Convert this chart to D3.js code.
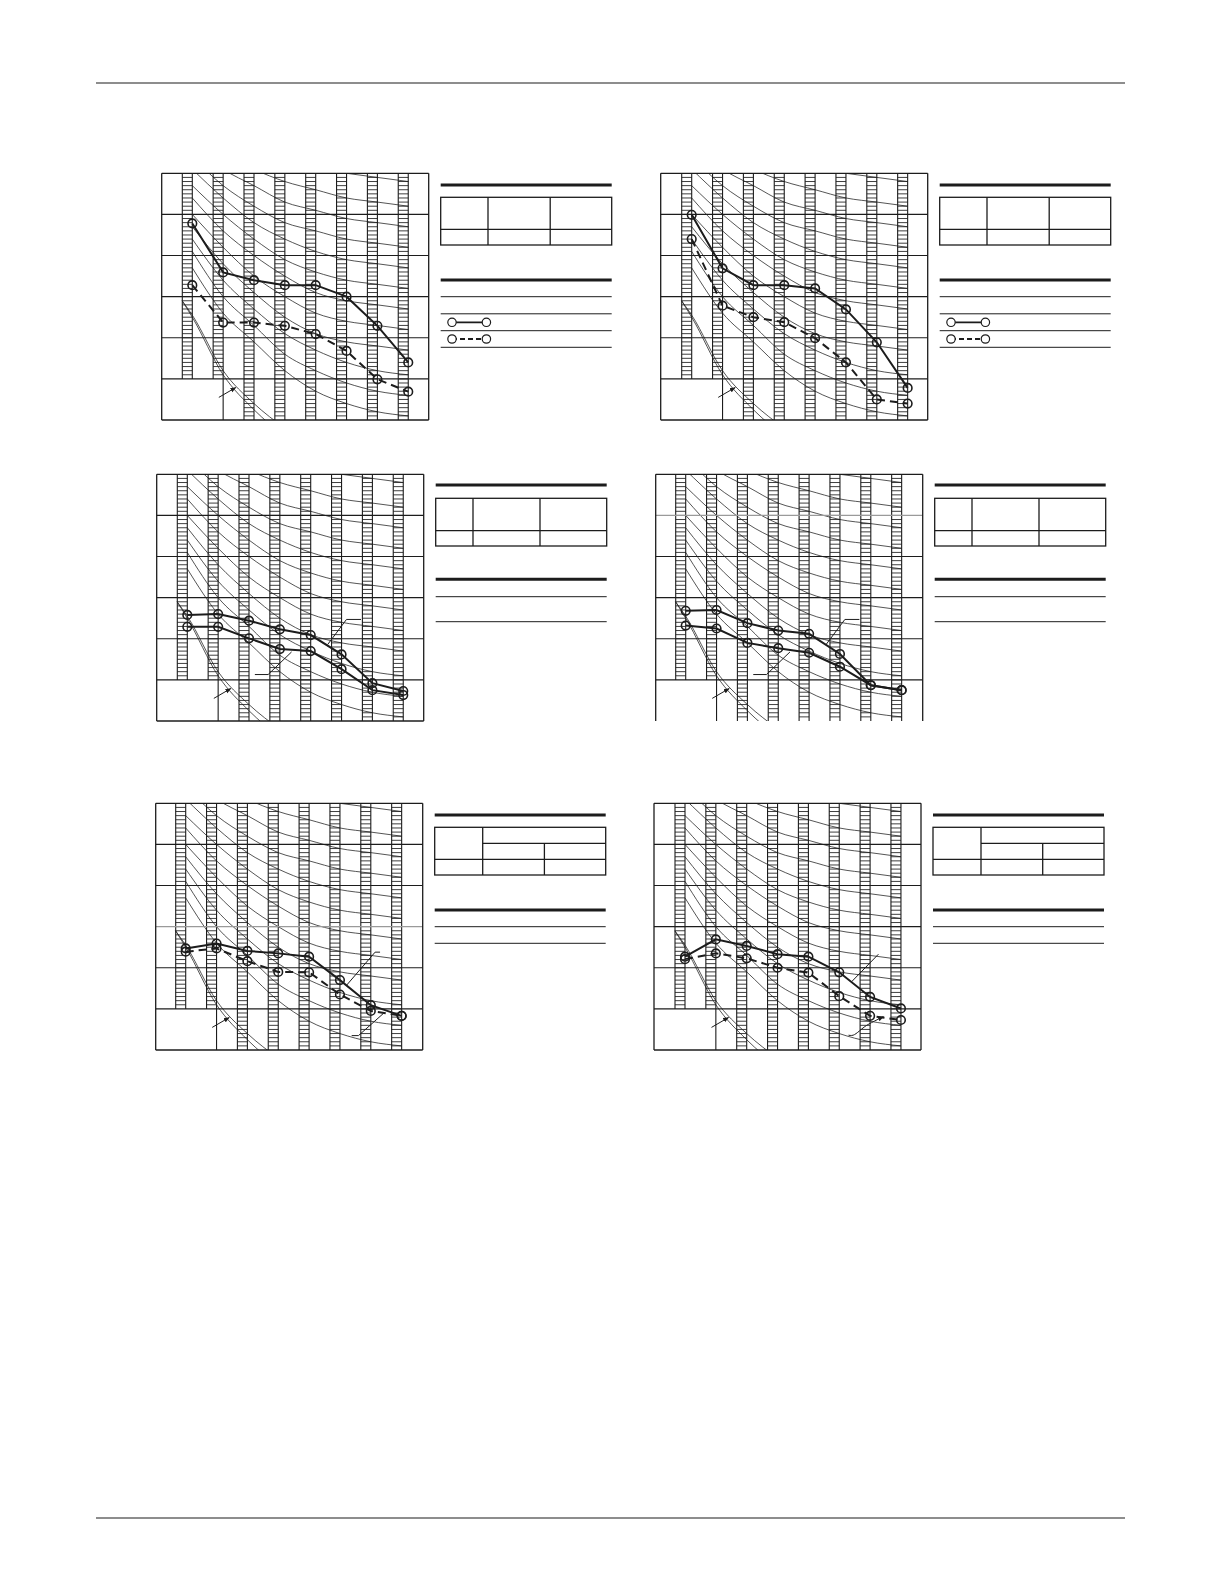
<!DOCTYPE html>
<html>
<head>
<meta charset="utf-8">
<script src="https://d3js.org/d3.v7.min.js"></script>
<style>
body { margin: 0; background: #fff; }
</style>
</head>
<body>
<svg id="page" width="1220" height="1584"></svg>
<script>

// octave band centre frequencies (x axis)
var bands = ["63", "125", "250", "500", "1k", "2k", "4k", "8k"];
// dB gridlines (y axis)
var dbTicks = [10, 20, 30, 40, 50, 60, 70];

// NC curves, one row per curve, values per octave band
var ncNames = ["NC-15", "NC-20", "NC-25", "NC-30", "NC-35", "NC-40", "NC-45", "NC-50", "NC-55", "NC-60", "NC-65", "NC-70"];
var ncValues = [
  [47, 36, 29, 22, 17, 14, 12, 11],
  [51, 40, 33, 26, 22, 19, 17, 16],
  [54, 44, 37, 31, 27, 24, 22, 21],
  [57, 48, 41, 35, 31, 29, 28, 27],
  [60, 52, 45, 40, 36, 34, 33, 32],
  [64, 56, 50, 45, 41, 39, 38, 37],
  [67, 60, 54, 49, 46, 44, 43, 42],
  [71, 64, 58, 54, 51, 49, 48, 47],
  [74, 67, 62, 58, 56, 54, 53, 52],
  [77, 71, 67, 63, 61, 59, 58, 57],
  [80, 75, 71, 68, 66, 64, 63, 62],
  [83, 79, 75, 72, 71, 70, 69, 68]
];

// approximate threshold of hearing (double line), x given as band index
var thrIdx = [-0.33, 0, 1, 2, 3];
var thrLow = [39, 35, 21, 12.5, 6];
var thrHigh = [39, 35.5, 22, 14, 8];

// measured spectra, dB per octave band
var c1Solid  = [57.8, 45.9, 44.0, 42.8, 42.8, 40.0, 32.9, 24.0];
var c1Dashed = [42.8, 33.7, 33.7, 32.9, 30.9, 26.8, 19.9, 16.9];
var c2Solid  = [59.9, 46.9, 42.8, 42.8, 42.0, 36.9, 28.9, 17.8];
var c2Dashed = [54.0, 37.8, 35.0, 33.8, 29.9, 24.0, 15.0, 14.0];
var c3Upper  = [35.8, 36.0, 34.4, 32.3, 30.9, 26.2, 19.2, 17.3];
var c3Lower  = [32.9, 32.9, 30.1, 27.5, 27.0, 22.6, 17.5, 16.3];
var c4Upper  = [36.8, 37.0, 33.8, 32.0, 31.2, 26.3, 18.7, 17.5];
var c4Lower  = [33.2, 32.5, 29.0, 27.7, 26.6, 23.2, 18.7, 17.5];
var c5Solid  = [34.7, 35.9, 34.1, 33.5, 32.7, 27.0, 20.9, 18.3];
var c5Dashed = [33.9, 34.7, 31.6, 29.0, 28.9, 23.5, 19.5, 18.3];
var c6Solid  = [32.7, 36.9, 35.3, 33.3, 32.7, 28.9, 22.9, 20.1];
var c6Dashed = [32.1, 33.5, 32.3, 30.0, 28.8, 23.1, 18.3, 17.3];

// leader lines, points as [band index, dB]
var thrArrow = [[0.86, 15.5], [1.41, 17.9]];
var lead3a = [[4.55, 28.6], [5.16, 34.7], [5.63, 34.7]];
var lead3b = [[3.38, 26.8], [2.62, 21.3], [2.19, 21.3]];
var lead5a = [[5.22, 25.8], [6.14, 33.8], [6.30, 33.8]];
var lead5b = [[6.41, 18.9], [5.60, 13.5], [5.38, 13.5]];
var lead6a = [[5.40, 26.6], [6.27, 33.3]];
var lead6b = [[5.30, 13.6], [5.45, 13.6], [5.89, 16.0], [6.43, 18.1]];

var ink = "#1c1c1c";
var svg = d3.select("#page");

svg.append("rect").attr("width", 1220).attr("height", 1584).attr("fill", "#fff");

// arrow head
svg.append("defs").append("marker")
  .attr("id", "arrow")
  .attr("viewBox", "0 0 10 10")
  .attr("refX", 9).attr("refY", 5)
  .attr("markerWidth", 6).attr("markerHeight", 6)
  .attr("orient", "auto")
  .append("path")
  .attr("d", "M0,1 L10,5 L0,9 Z")
  .attr("fill", ink);

// page rules
svg.append("line").attr("x1", 96).attr("x2", 1125).attr("y1", 83).attr("y2", 83)
  .attr("stroke", ink).attr("stroke-width", 1.1);
svg.append("line").attr("x1", 96).attr("x2", 1125).attr("y1", 1518).attr("y2", 1518)
  .attr("stroke", ink).attr("stroke-width", 1.1);

var panels = [
  {id: 1, left: 161.7, top: 173.3, off: 30.6, series: [c1Solid, c1Dashed], dash: [false, true], leads: [], table: "A"},
  {id: 2, left: 660.7, top: 173.3, off: 31.0, series: [c2Solid, c2Dashed], dash: [false, true], leads: [], table: "A"},
  {id: 3, left: 156.7, top: 474.3, off: 30.6, series: [c3Upper, c3Lower], dash: [false, false], leads: [lead3a, lead3b], table: "B"},
  {id: 4, left: 655.7, top: 474.3, off: 30.0, series: [c4Upper, c4Lower], dash: [false, false], leads: [lead3a, lead3b], table: "B", noBottom: true, gray: 60},
  {id: 5, left: 155.7, top: 803.3, off: 30.0, series: [c5Solid, c5Dashed], dash: [false, true], leads: [lead5a, lead5b], table: "C", gray: 40},
  {id: 6, left: 654.0, top: 803.3, off: 31.0, series: [c6Solid, c6Dashed], dash: [false, true], leads: [lead6a], arrowLeads: [lead6b], table: "C"}
];

panels.forEach(function(p) { drawChart(p); drawTable(p); });

function drawChart(p) {
  var step = 30.85, h = 246.7, w = 267;
  var x = d3.scaleLinear().domain([0, bands.length - 1])
    .range([p.left + p.off, p.left + p.off + (bands.length - 1) * step]);
  var y = d3.scaleLinear().domain([10, 70]).range([p.top + h, p.top]);
  var right = p.left + w, bottom = p.top + h;
  var g = svg.append("g");

  g.append("clipPath").attr("id", "clip" + p.id)
    .append("rect").attr("x", p.left).attr("y", p.top).attr("width", w).attr("height", h);

  // NC curves
  var ncLine = d3.line().x(function(d, i) { return x(i); }).y(function(d) { return y(d); })
    .curve(d3.curveMonotoneX);
  g.append("g").attr("clip-path", "url(#clip" + p.id + ")")
    .selectAll("path").data(ncValues).enter().append("path")
    .attr("d", ncLine).attr("fill", "none").attr("stroke", "#2a2a2a").attr("stroke-width", 0.8);

  // threshold of hearing
  var thrLine = d3.line().x(function(d, i) { return x(thrIdx[i]); }).y(function(d) { return y(d); })
    .curve(d3.curveMonotoneX);
  g.append("g").attr("clip-path", "url(#clip" + p.id + ")")
    .selectAll("path").data([thrLow, thrHigh]).enter().append("path")
    .attr("d", thrLine).attr("fill", "none").attr("stroke", "#2a2a2a").attr("stroke-width", 0.8);

  // hatched band scales (1 dB ticks)
  bands.forEach(function(b, i) {
    var x1 = x(i), x0 = x1 - 10;
    var low = i < 2 ? 20 : 10;
    var bg = g.append("g");
    bg.selectAll("line.tick").data(d3.range(low + 1, 70)).enter().append("line")
      .attr("x1", x0).attr("x2", x1)
      .attr("y1", function(d) { return y(d); }).attr("y2", function(d) { return y(d); })
      .attr("stroke", ink).attr("stroke-width", 0.85);
    [x0, x1].forEach(function(xx) {
      bg.append("line").attr("x1", xx).attr("x2", xx).attr("y1", p.top).attr("y2", y(low))
        .attr("stroke", ink).attr("stroke-width", 1.1);
    });
  });

  // label box at lower left
  g.append("line").attr("x1", x(1)).attr("x2", x(1)).attr("y1", y(20)).attr("y2", bottom)
    .attr("stroke", ink).attr("stroke-width", 1.1);

  // dB gridlines
  dbTicks.forEach(function(d) {
    if (d === 10 && p.noBottom) return;
    g.append("line").attr("x1", p.left).attr("x2", right).attr("y1", y(d)).attr("y2", y(d))
      .attr("stroke", d === p.gray ? "#9a9a9a" : ink).attr("stroke-width", d === 70 || d === 10 ? 1.3 : 1.1);
  });
  g.append("line").attr("x1", p.left).attr("x2", p.left).attr("y1", p.top).attr("y2", bottom)
    .attr("stroke", ink).attr("stroke-width", 1.3);
  g.append("line").attr("x1", right).attr("x2", right).attr("y1", p.top).attr("y2", bottom)
    .attr("stroke", ink).attr("stroke-width", 1.3);

  // threshold arrow
  var ptLine = d3.line().x(function(d) { return x(d[0]); }).y(function(d) { return y(d[1]); });
  g.append("path").attr("d", ptLine(thrArrow)).attr("fill", "none")
    .attr("stroke", ink).attr("stroke-width", 1).attr("marker-end", "url(#arrow)");

  // leader lines
  p.leads.forEach(function(l) {
    g.append("path").attr("d", ptLine(l)).attr("fill", "none").attr("stroke", ink).attr("stroke-width", 1);
  });
  (p.arrowLeads || []).forEach(function(l) {
    g.append("path").attr("d", ptLine.curve(d3.curveCatmullRom)(l)).attr("fill", "none")
      .attr("stroke", ink).attr("stroke-width", 1).attr("marker-end", "url(#arrow)");
    ptLine.curve(d3.curveLinear);
  });

  // measured spectra
  var dataLine = d3.line().x(function(d, i) { return x(i); }).y(function(d) { return y(d); });
  p.series.forEach(function(s, k) {
    g.append("path").attr("d", dataLine(s)).attr("fill", "none")
      .attr("stroke", ink).attr("stroke-width", 2)
      .attr("stroke-dasharray", p.dash[k] ? "8,5" : null);
    g.selectAll("circle.s" + k).data(s).enter().append("circle")
      .attr("cx", function(d, i) { return x(i); }).attr("cy", function(d) { return y(d); })
      .attr("r", 4.3).attr("fill", "none").attr("stroke", ink).attr("stroke-width", 1.6);
  });
}

function hline(x1, x2, yy, sw) {
  svg.append("line").attr("x1", x1).attr("x2", x2).attr("y1", yy).attr("y2", yy)
    .attr("stroke", ink).attr("stroke-width", sw);
}
function vline(xx, y1, y2, sw) {
  svg.append("line").attr("x1", xx).attr("x2", xx).attr("y1", y1).attr("y2", y2)
    .attr("stroke", ink).attr("stroke-width", sw);
}

function drawTable(p) {
  var tx = p.left + 279, tw = 171, t = p.top;
  if (p.table === "A") {
    hline(tx, tx + tw, t + 11.7, 3);
    svg.append("rect").attr("x", tx).attr("y", t + 24).attr("width", tw).attr("height", 47.7)
      .attr("fill", "none").attr("stroke", ink).attr("stroke-width", 1.3);
    hline(tx, tx + tw, t + 56, 1.3);
    vline(tx + 47.3, t + 24, t + 71.7, 1.3);
    vline(tx + 109.5, t + 24, t + 71.7, 1.3);
    hline(tx, tx + tw, t + 106.7, 3);
    [123.4, 140.5, 157.4, 174].forEach(function(d) { hline(tx, tx + tw, t + d, 1); });
    // legend symbols
    [[149, null], [165.7, "5,3"]].forEach(function(l) {
      svg.append("line").attr("x1", tx + 11.3).attr("x2", tx + 45.7).attr("y1", t + l[0]).attr("y2", t + l[0])
        .attr("stroke", ink).attr("stroke-width", 1.8).attr("stroke-dasharray", l[1]);
      [11.3, 45.7].forEach(function(cx) {
        svg.append("circle").attr("cx", tx + cx).attr("cy", t + l[0]).attr("r", 4.2)
          .attr("fill", "#fff").attr("stroke", ink).attr("stroke-width", 1.2);
      });
    });
  } else if (p.table === "B") {
    hline(tx, tx + tw, t + 10.7, 3);
    svg.append("rect").attr("x", tx).attr("y", t + 24).attr("width", tw).attr("height", 47.7)
      .attr("fill", "none").attr("stroke", ink).attr("stroke-width", 1.3);
    hline(tx, tx + tw, t + 56.4, 1.3);
    vline(tx + 37.3, t + 24, t + 71.7, 1.3);
    vline(tx + 104.3, t + 24, t + 71.7, 1.3);
    hline(tx, tx + tw, t + 105, 3);
    [122.4, 147.4].forEach(function(d) { hline(tx, tx + tw, t + d, 1); });
  } else {
    hline(tx, tx + tw, t + 11.7, 3);
    svg.append("rect").attr("x", tx).attr("y", t + 24).attr("width", tw).attr("height", 47.7)
      .attr("fill", "none").attr("stroke", ink).attr("stroke-width", 1.3);
    hline(tx + 48, tx + tw, t + 40, 1.3);
    hline(tx, tx + tw, t + 56, 1.3);
    vline(tx + 48, t + 24, t + 71.7, 1.3);
    vline(tx + 109.7, t + 40, t + 71.7, 1.3);
    hline(tx, tx + tw, t + 106.7, 3);
    [123.4, 140].forEach(function(d) { hline(tx, tx + tw, t + d, 1); });
  }
}

</script>
</body>
</html>
